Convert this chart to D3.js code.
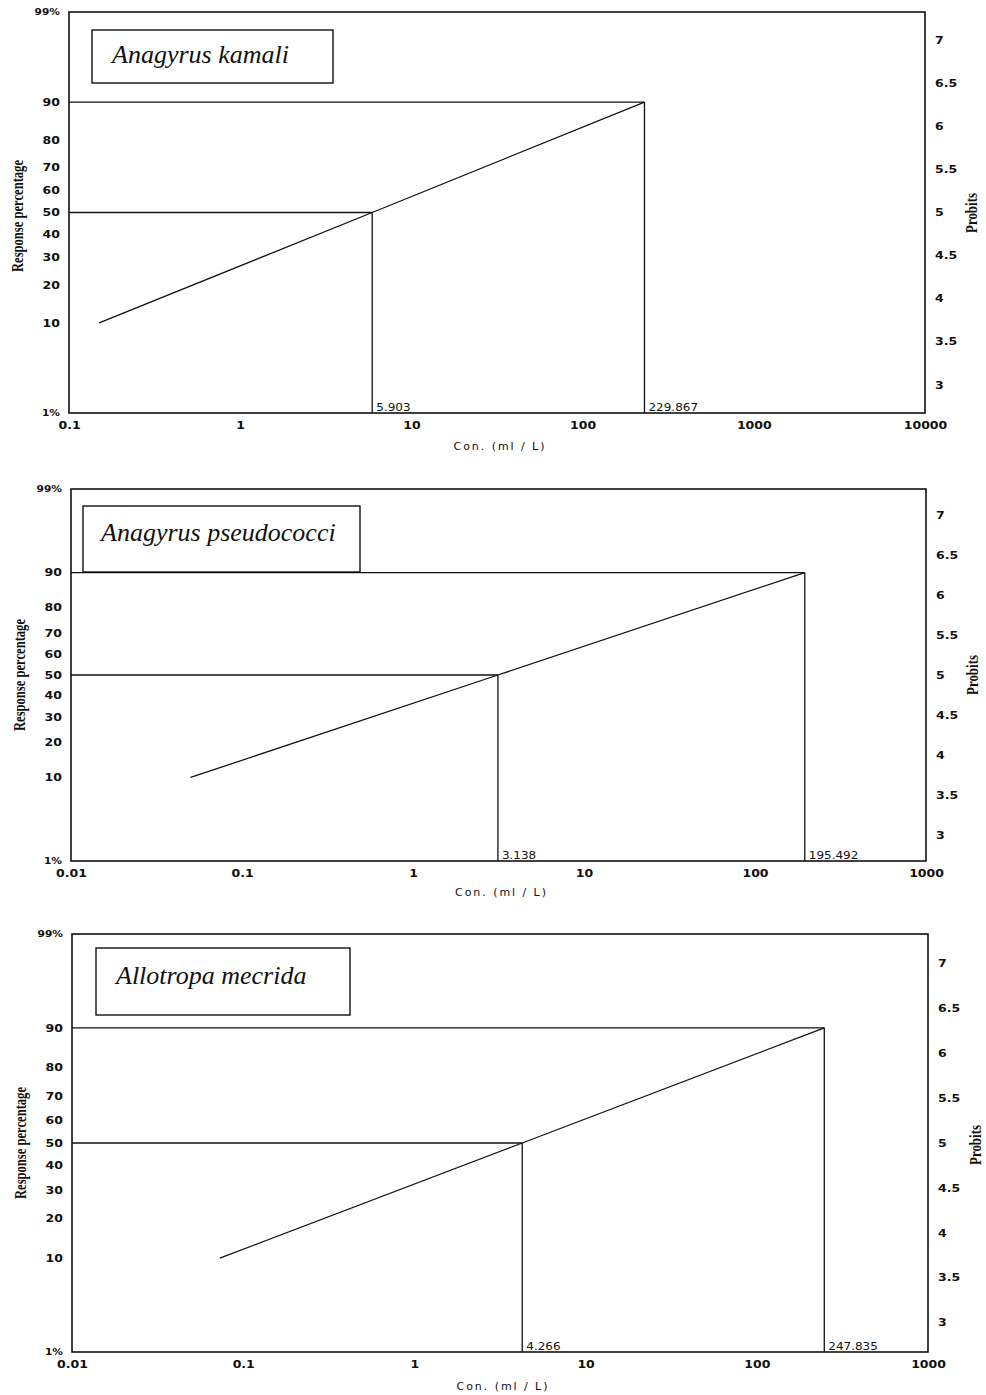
<!DOCTYPE html>
<html><head><meta charset="utf-8">
<script src="https://cdn.jsdelivr.net/npm/d3@7"></script>
<style>body{margin:0;background:#fff} svg{display:block}</style>
</head><body>
<svg id="chart" width="986" height="1395"></svg>
<script>
// ---------- data ----------
const species = ["Anagyrus kamali", "Anagyrus pseudococci", "Allotropa mecrida"];
const responseLevels = [10, 50, 90];           // % response of the fitted line points
const lc10 = [0.15, 0.05, 0.073];
const lc50 = [5.903, 3.138, 4.266];
const lc90 = [229.867, 195.492, 247.835];
const lc50Labels = ["5.903", "3.138", "4.266"];
const lc90Labels = ["229.867", "195.492", "247.835"];
const xDomains = [[0.1, 10000], [0.01, 1000], [0.01, 1000]];
const xTickValues = [
  [0.1, 1, 10, 100, 1000, 10000],
  [0.01, 0.1, 1, 10, 100, 1000],
  [0.01, 0.1, 1, 10, 100, 1000]
];
const xTickLabels = [
  ["0.1", "1", "10", "100", "1000", "10000"],
  ["0.01", "0.1", "1", "10", "100", "1000"],
  ["0.01", "0.1", "1", "10", "100", "1000"]
];
const yTickPercents = [99, 90, 80, 70, 60, 50, 40, 30, 20, 10, 1];
const yTickLabels = ["99%", "90", "80", "70", "60", "50", "40", "30", "20", "10", "1%"];
const probitTicks = [3, 3.5, 4, 4.5, 5, 5.5, 6, 6.5, 7];
const probitTickLabels = ["3", "3.5", "4", "4.5", "5", "5.5", "6", "6.5", "7"];
const yTitle = "Response percentage";
const y2Title = "Probits";
const xTitle = "Con.  (ml / L)";

// ---------- layout ----------
const frames = [
  {l: 69, t: 12, r: 925, b: 413},
  {l: 71, t: 489, r: 926, b: 861},
  {l: 72, t: 934, r: 928, b: 1352}
];
const boxes = [
  {x: 92, y: 30, w: 241, h: 53, tx: 112, ty: 63},
  {x: 83, y: 506, w: 277, h: 66, tx: 101, ty: 541},
  {x: 96, y: 948, w: 254, h: 67, tx: 116, ty: 984}
];
const yTitlePos = [{x: 19, y: 216}, {x: 21, y: 675}, {x: 22, y: 1143}];
const y2TitlePos = [{x: 973, y: 213}, {x: 974, y: 675}, {x: 977, y: 1145}];
const xTitleY = [447, 893, 1387];

// inverse standard normal CDF (Acklam) -> probit transform of the axis
function invNorm(p) {
  const a = [-3.969683028665376e+01, 2.209460984245205e+02, -2.759285104469687e+02, 1.383577518672690e+02, -3.066479806614716e+01, 2.506628277459239e+00];
  const b = [-5.447609879822406e+01, 1.615858368580409e+02, -1.556989798598866e+02, 6.680131188771972e+01, -1.328068155288572e+01];
  const c = [-7.784894002430293e-03, -3.223964580411365e-01, -2.400758277161838e+00, -2.549671010115819e+00, 4.374664141464968e+00, 2.938163982698783e+00];
  const d = [7.784695709041462e-03, 3.224671290700398e-01, 2.445134137142996e+00, 3.754408661907416e+00];
  const pl = 0.02425, ph = 1 - pl;
  let q, r;
  if (p < pl) { q = Math.sqrt(-2 * Math.log(p));
    return (((((c[0]*q+c[1])*q+c[2])*q+c[3])*q+c[4])*q+c[5]) / ((((d[0]*q+d[1])*q+d[2])*q+d[3])*q+1); }
  if (p <= ph) { q = p - 0.5; r = q * q;
    return (((((a[0]*r+a[1])*r+a[2])*r+a[3])*r+a[4])*r+a[5])*q / (((((b[0]*r+b[1])*r+b[2])*r+b[3])*r+b[4])*r+1); }
  q = Math.sqrt(-2 * Math.log(1 - p));
  return -(((((c[0]*q+c[1])*q+c[2])*q+c[3])*q+c[4])*q+c[5]) / ((((d[0]*q+d[1])*q+d[2])*q+d[3])*q+1);
}
const probit = pct => 5 + invNorm(pct / 100);

const svg = d3.select("#chart");
const INK = "#111";
const tickFont = "'DejaVu Sans', sans-serif";

function stretchTicks(g, sx) {
  g.selectAll(".tick text").each(function () {
    const t = d3.select(this);
    const x = +t.attr("x") || 0, y = +t.attr("y") || 0;
    t.attr("x", 0).attr("y", 0).attr("transform", `translate(${x},${y}) scale(${sx},1)`);
  });
}

species.forEach((name, i) => {
  const f = frames[i];
  const g = svg.append("g");
  const x = d3.scaleLog().domain(xDomains[i]).range([f.l, f.r]);
  const y = d3.scaleLinear().domain([probit(1), probit(99)]).range([f.b, f.t]);

  // axes
  const yAxis = d3.axisLeft(y).tickValues(yTickPercents.map(probit))
    .tickFormat((d, k) => yTickLabels[k]).tickSize(0).tickPadding(9);
  const gy = g.append("g").attr("transform", `translate(${f.l},0)`).call(yAxis);
  const y2Axis = d3.axisRight(y).tickValues(probitTicks)
    .tickFormat((d, k) => probitTickLabels[k]).tickSize(0).tickPadding(10);
  const gy2 = g.append("g").attr("transform", `translate(${f.r},0)`).call(y2Axis);
  const xAxis = d3.axisBottom(x).tickValues(xTickValues[i])
    .tickFormat((d, k) => xTickLabels[i][k]).tickSize(0).tickPadding(9);
  const gx = g.append("g").attr("transform", `translate(0,${f.b})`).call(xAxis);
  [gy, gy2, gx].forEach(a => {
    a.select(".domain").remove();
    a.selectAll(".tick text").attr("fill", INK).attr("font-family", tickFont)
      .attr("font-weight", "bold").attr("font-size", 10);
    stretchTicks(a, 1.25);
  });
  gy.selectAll(".tick text").filter((d, k) => k === 0 || k === yTickLabels.length - 1)
    .attr("font-size", 8.5);

  // frame
  g.append("rect").attr("x", f.l).attr("y", f.t).attr("width", f.r - f.l).attr("height", f.b - f.t)
    .attr("fill", "none").attr("stroke", INK).attr("stroke-width", 1.6);

  // reference lines at 50% and 90%
  const marks = [[lc50[i], 50], [lc90[i], 90]];
  marks.forEach(([c, p]) => {
    g.append("line").attr("x1", f.l).attr("x2", x(c)).attr("y1", y(probit(p))).attr("y2", y(probit(p)))
      .attr("stroke", INK).attr("stroke-width", 1.3);
    g.append("line").attr("x1", x(c)).attr("x2", x(c)).attr("y1", y(probit(p))).attr("y2", f.b)
      .attr("stroke", INK).attr("stroke-width", 1.3);
  });

  // regression line
  const pts = responseLevels.map((p, k) => [[lc10[i], lc50[i], lc90[i]][k], p]);
  g.append("path").datum(pts)
    .attr("d", d3.line().x(d => x(d[0])).y(d => y(probit(d[1]))))
    .attr("fill", "none").attr("stroke", INK).attr("stroke-width", 1.3);

  // value labels
  [[lc50[i], lc50Labels[i]], [lc90[i], lc90Labels[i]]].forEach(([c, lab]) => {
    g.append("text").attr("transform", `translate(${x(c) + 4},${f.b - 2}) scale(1.2,1)`)
      .attr("font-family", tickFont).attr("font-size", 10).attr("fill", INK).text(lab);
  });

  // species box
  const b = boxes[i];
  g.append("rect").attr("x", b.x).attr("y", b.y).attr("width", b.w).attr("height", b.h)
    .attr("fill", "#fff").attr("stroke", INK).attr("stroke-width", 1.4);
  g.append("text").attr("x", b.tx).attr("y", b.ty)
    .attr("font-family", "'Liberation Serif', 'Times New Roman', serif").attr("font-style", "italic")
    .attr("font-size", 26).attr("fill", INK).text(name);

  // axis titles
  const yt = yTitlePos[i];
  g.append("text").attr("transform", `translate(${yt.x},${yt.y}) rotate(-90)`)
    .attr("text-anchor", "middle").attr("dominant-baseline", "middle")
    .attr("font-family", "'Liberation Serif', serif").attr("font-weight", "bold").attr("font-size", 17)
    .attr("textLength", 112).attr("lengthAdjust", "spacingAndGlyphs").attr("fill", INK).text(yTitle);
  const y2t = y2TitlePos[i];
  g.append("text").attr("transform", `translate(${y2t.x},${y2t.y}) rotate(-90)`)
    .attr("text-anchor", "middle").attr("dominant-baseline", "middle")
    .attr("font-family", "'Liberation Serif', serif").attr("font-weight", "bold").attr("font-size", 17)
    .attr("textLength", 40).attr("lengthAdjust", "spacingAndGlyphs").attr("fill", INK).text(y2Title);
  g.append("text").attr("x", (f.l + f.r) / 2 + 2).attr("y", xTitleY[i])
    .attr("text-anchor", "middle").attr("dominant-baseline", "middle")
    .attr("font-family", tickFont).attr("font-size", 11).attr("fill", INK)
    .attr("textLength", 91).attr("lengthAdjust", "spacing").text(xTitle);
});
</script>
</body></html>
